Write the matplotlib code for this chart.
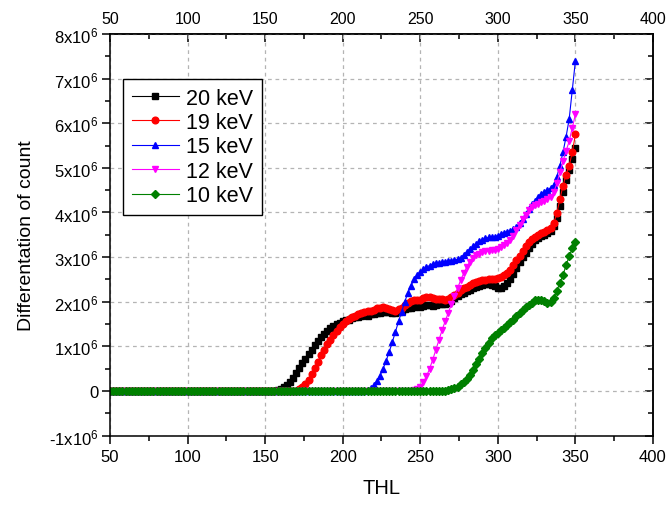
import matplotlib
matplotlib.use('Agg')
import matplotlib.pyplot as plt
import numpy as np
from matplotlib.ticker import MultipleLocator, FuncFormatter

plt.rcParams['font.family'] = ['Liberation Sans', 'DejaVu Sans']
plt.rcParams['mathtext.default'] = 'regular'

# THL steps (every 2 units from 50 to 350)
thl = np.arange(50, 351, 2)

# values in units of 1e6
kev20 = [0, 0, 0, 0, 0, 0, 0, 0, 0, 0, 0, 0, 0, 0, 0, 0, 0, 0, 0, 0, 0, 0, 0, 0, 0, 0, 0,
         0, 0, 0, 0, 0, 0, 0, 0, 0, 0, 0, 0, 0, 0, 0, 0, 0, 0, 0, 0, 0, 0, 0, 0, 0, 0, 0,
         0.02, 0.04, 0.08, 0.13, 0.2, 0.3, 0.4, 0.52, 0.62, 0.72, 0.82, 0.93, 1.03, 1.12, 1.2,
         1.28, 1.35, 1.41, 1.46, 1.5, 1.53, 1.56, 1.59, 1.6, 1.63, 1.65, 1.66, 1.68, 1.7, 1.69,
         1.72, 1.73, 1.75, 1.74, 1.76, 1.78, 1.77, 1.75, 1.74, 1.76, 1.79, 1.83, 1.85, 1.86,
         1.88, 1.9, 1.89, 1.91, 1.93, 1.92, 1.9, 1.92, 1.94, 1.95, 1.96, 1.98, 2.02, 2.08, 2.13,
         2.17, 2.2, 2.24, 2.27, 2.3, 2.33, 2.36, 2.38, 2.39, 2.4, 2.38, 2.35, 2.31, 2.3, 2.35,
         2.42, 2.5, 2.62, 2.75, 2.88, 3.0, 3.1, 3.2, 3.3, 3.38, 3.43, 3.47, 3.5, 3.53, 3.58,
         3.7, 3.88, 4.15, 4.45, 4.72, 4.95, 5.2, 5.45]

kev19 = [0, 0, 0, 0, 0, 0, 0, 0, 0, 0, 0, 0, 0, 0, 0, 0, 0, 0, 0, 0, 0, 0, 0, 0, 0, 0, 0,
         0, 0, 0, 0, 0, 0, 0, 0, 0, 0, 0, 0, 0, 0, 0, 0, 0, 0, 0, 0, 0, 0, 0, 0, 0, 0, 0,
         0, 0, 0, 0, 0, 0, 0,
         0.04, 0.08, 0.15, 0.25, 0.38, 0.52, 0.66, 0.8, 0.93, 1.05, 1.15, 1.25, 1.35, 1.43,
         1.5, 1.57, 1.62, 1.66, 1.69, 1.72, 1.75, 1.77, 1.79, 1.8, 1.82, 1.85, 1.87, 1.88,
         1.86, 1.84, 1.82, 1.8, 1.83, 1.87, 1.92, 1.97, 2.02, 2.05, 2.03, 2.05, 2.08, 2.1,
         2.11, 2.09, 2.07, 2.06, 2.07, 2.05, 2.07, 2.1, 2.15, 2.2, 2.26, 2.3, 2.34, 2.38,
         2.41, 2.44, 2.46, 2.48, 2.49, 2.5, 2.51, 2.52, 2.53, 2.56, 2.6, 2.65, 2.72, 2.82,
         2.93, 3.03, 3.14, 3.25, 3.33, 3.4, 3.45, 3.5, 3.54, 3.57, 3.6, 3.66, 3.76, 3.98, 4.3,
         4.6, 4.85, 5.05, 5.35, 5.75]

kev15 = [0, 0, 0, 0, 0, 0, 0, 0, 0, 0, 0, 0, 0, 0, 0, 0, 0, 0, 0, 0, 0, 0, 0, 0, 0, 0, 0,
         0, 0, 0, 0, 0, 0, 0, 0, 0, 0, 0, 0, 0, 0, 0, 0, 0, 0, 0, 0, 0, 0, 0, 0, 0, 0, 0,
         0, 0, 0, 0, 0, 0, 0, 0, 0, 0, 0, 0, 0, 0, 0, 0, 0, 0, 0, 0, 0, 0, 0, 0, 0, 0, 0,
         0, 0,
         0.03, 0.07, 0.13, 0.22, 0.34, 0.5, 0.68, 0.88, 1.1, 1.33, 1.56, 1.78, 2.0, 2.2, 2.36,
         2.5, 2.6, 2.67, 2.73, 2.78, 2.81, 2.84, 2.86, 2.87, 2.88, 2.9, 2.91, 2.92, 2.93, 2.95,
         2.98, 3.05, 3.12, 3.18, 3.24, 3.3, 3.35, 3.39, 3.42, 3.44, 3.45, 3.46, 3.48, 3.52,
         3.55, 3.57, 3.59, 3.62, 3.68, 3.76, 3.86, 3.97, 4.08, 4.18, 4.26, 4.35, 4.42, 4.46,
         4.5, 4.55, 4.62, 4.8, 5.05, 5.35, 5.7, 6.1, 6.75, 7.4]

kev12 = [0, 0, 0, 0, 0, 0, 0, 0, 0, 0, 0, 0, 0, 0, 0, 0, 0, 0, 0, 0, 0, 0, 0, 0, 0, 0, 0,
         0, 0, 0, 0, 0, 0, 0, 0, 0, 0, 0, 0, 0, 0, 0, 0, 0, 0, 0, 0, 0, 0, 0, 0, 0, 0, 0,
         0, 0, 0, 0, 0, 0, 0, 0, 0, 0, 0, 0, 0, 0, 0, 0, 0, 0, 0, 0, 0, 0, 0, 0, 0, 0, 0,
         0, 0, 0, 0, 0, 0, 0, 0, 0, 0, 0, 0, 0, 0, 0, 0, 0,
         0.02, 0.05, 0.1, 0.2, 0.33, 0.5, 0.7, 0.92, 1.14, 1.36, 1.56, 1.75, 1.94, 2.12, 2.3,
         2.48, 2.64, 2.78, 2.9, 2.98, 3.04, 3.08, 3.11, 3.13, 3.14, 3.15, 3.16, 3.18, 3.22,
         3.27, 3.32, 3.38, 3.48, 3.6, 3.72, 3.85, 3.95, 4.05, 4.12, 4.17, 4.2, 4.23, 4.26,
         4.3, 4.35, 4.45, 4.65, 4.9, 5.15, 5.38, 5.6, 5.9, 6.2]

kev10 = [0, 0, 0, 0, 0, 0, 0, 0, 0, 0, 0, 0, 0, 0, 0, 0, 0, 0, 0, 0, 0, 0, 0, 0, 0, 0, 0,
         0, 0, 0, 0, 0, 0, 0, 0, 0, 0, 0, 0, 0, 0, 0, 0, 0, 0, 0, 0, 0, 0, 0, 0, 0, 0, 0,
         0, 0, 0, 0, 0, 0, 0, 0, 0, 0, 0, 0, 0, 0, 0, 0, 0, 0, 0, 0, 0, 0, 0, 0, 0, 0, 0,
         0, 0, 0, 0, 0, 0, 0, 0, 0, 0, 0, 0, 0, 0, 0, 0, 0, 0, 0, 0, 0, 0, 0, 0, 0, 0, 0,
         0,
         0.02, 0.04, 0.07, 0.1, 0.15, 0.2, 0.28, 0.37, 0.48, 0.6, 0.72, 0.85, 0.97, 1.08,
         1.18, 1.25, 1.3, 1.36, 1.42, 1.47, 1.54, 1.6, 1.68, 1.75, 1.82, 1.88, 1.93, 1.98,
         2.03, 2.05, 2.04, 2.01, 1.98, 1.99, 2.08, 2.25, 2.42, 2.6, 2.82, 3.02, 3.2, 3.34]

series = [("20 keV", kev20, "black", "s"),
          ("19 keV", kev19, "red", "o"),
          ("15 keV", kev15, "blue", "^"),
          ("12 keV", kev12, "magenta", "v"),
          ("10 keV", kev10, "green", "D")]

fig = plt.figure(figsize=(6.72, 5.06), dpi=100)
ax = fig.add_axes([0.1637, 0.137, 0.808, 0.794])

for label, vals, col, mk in series:
    ax.plot(thl, np.array(vals) * 1e6, color=col, marker=mk, markersize=4.8 if mk != 'D' else 4.2,
            linewidth=0.8, label=label)

ax.set_xlim(50, 400)
ax.set_ylim(-1e6, 8e6)
ax.xaxis.set_major_locator(MultipleLocator(50))
ax.xaxis.set_minor_locator(MultipleLocator(25))
ax.yaxis.set_major_locator(MultipleLocator(1e6))
ax.yaxis.set_minor_locator(MultipleLocator(0.5e6))


def yfmt(v, pos):
    n = int(round(v / 1e6))
    if n == 0:
        return '0'
    return '%dx10$^{6}$' % n


ax.yaxis.set_major_formatter(FuncFormatter(yfmt))
ax.grid(True, which='major', color='#b4b4b4', linestyle=(0, (3, 3)), linewidth=0.9)

ax.tick_params(which='major', direction='out', length=5.8, width=1.1, labelsize=12)
ax.tick_params(which='minor', direction='out', length=3.6, width=1.1)
ax.tick_params(axis='x', which='major', pad=4)
ax.tick_params(axis='y', which='major', pad=2.5)

top = ax.secondary_xaxis('top')
top.xaxis.set_major_locator(MultipleLocator(50))
top.xaxis.set_minor_locator(MultipleLocator(25))
top.tick_params(which='major', direction='in', length=5.8, width=1.1, labelsize=11.5, pad=6)
top.tick_params(which='minor', direction='in', length=3.6, width=1.1)

right = ax.secondary_yaxis('right')
right.yaxis.set_major_locator(MultipleLocator(1e6))
right.yaxis.set_minor_locator(MultipleLocator(0.5e6))
right.tick_params(which='major', direction='in', length=5.8, width=1.1, labelright=False)
right.tick_params(which='minor', direction='in', length=3.6, width=1.1)

for sp in ax.spines.values():
    sp.set_linewidth(1.1)
top.spines['top'].set_linewidth(1.1)
right.spines['right'].set_linewidth(1.1)

ax.set_xlabel('THL', fontsize=14.5, labelpad=10)
ax.set_ylabel('Differentation of count', fontsize=14, labelpad=10)

leg = ax.legend(loc='upper left', bbox_to_anchor=(0.0238, 0.888), borderaxespad=0,
                fontsize=15.5, fancybox=False, edgecolor='black', framealpha=1,
                handlelength=2.2, handletextpad=0.35, labelspacing=0.16, borderpad=0.4)
leg.get_frame().set_linewidth(1.0)

fig.savefig('out.png', dpi=100)
